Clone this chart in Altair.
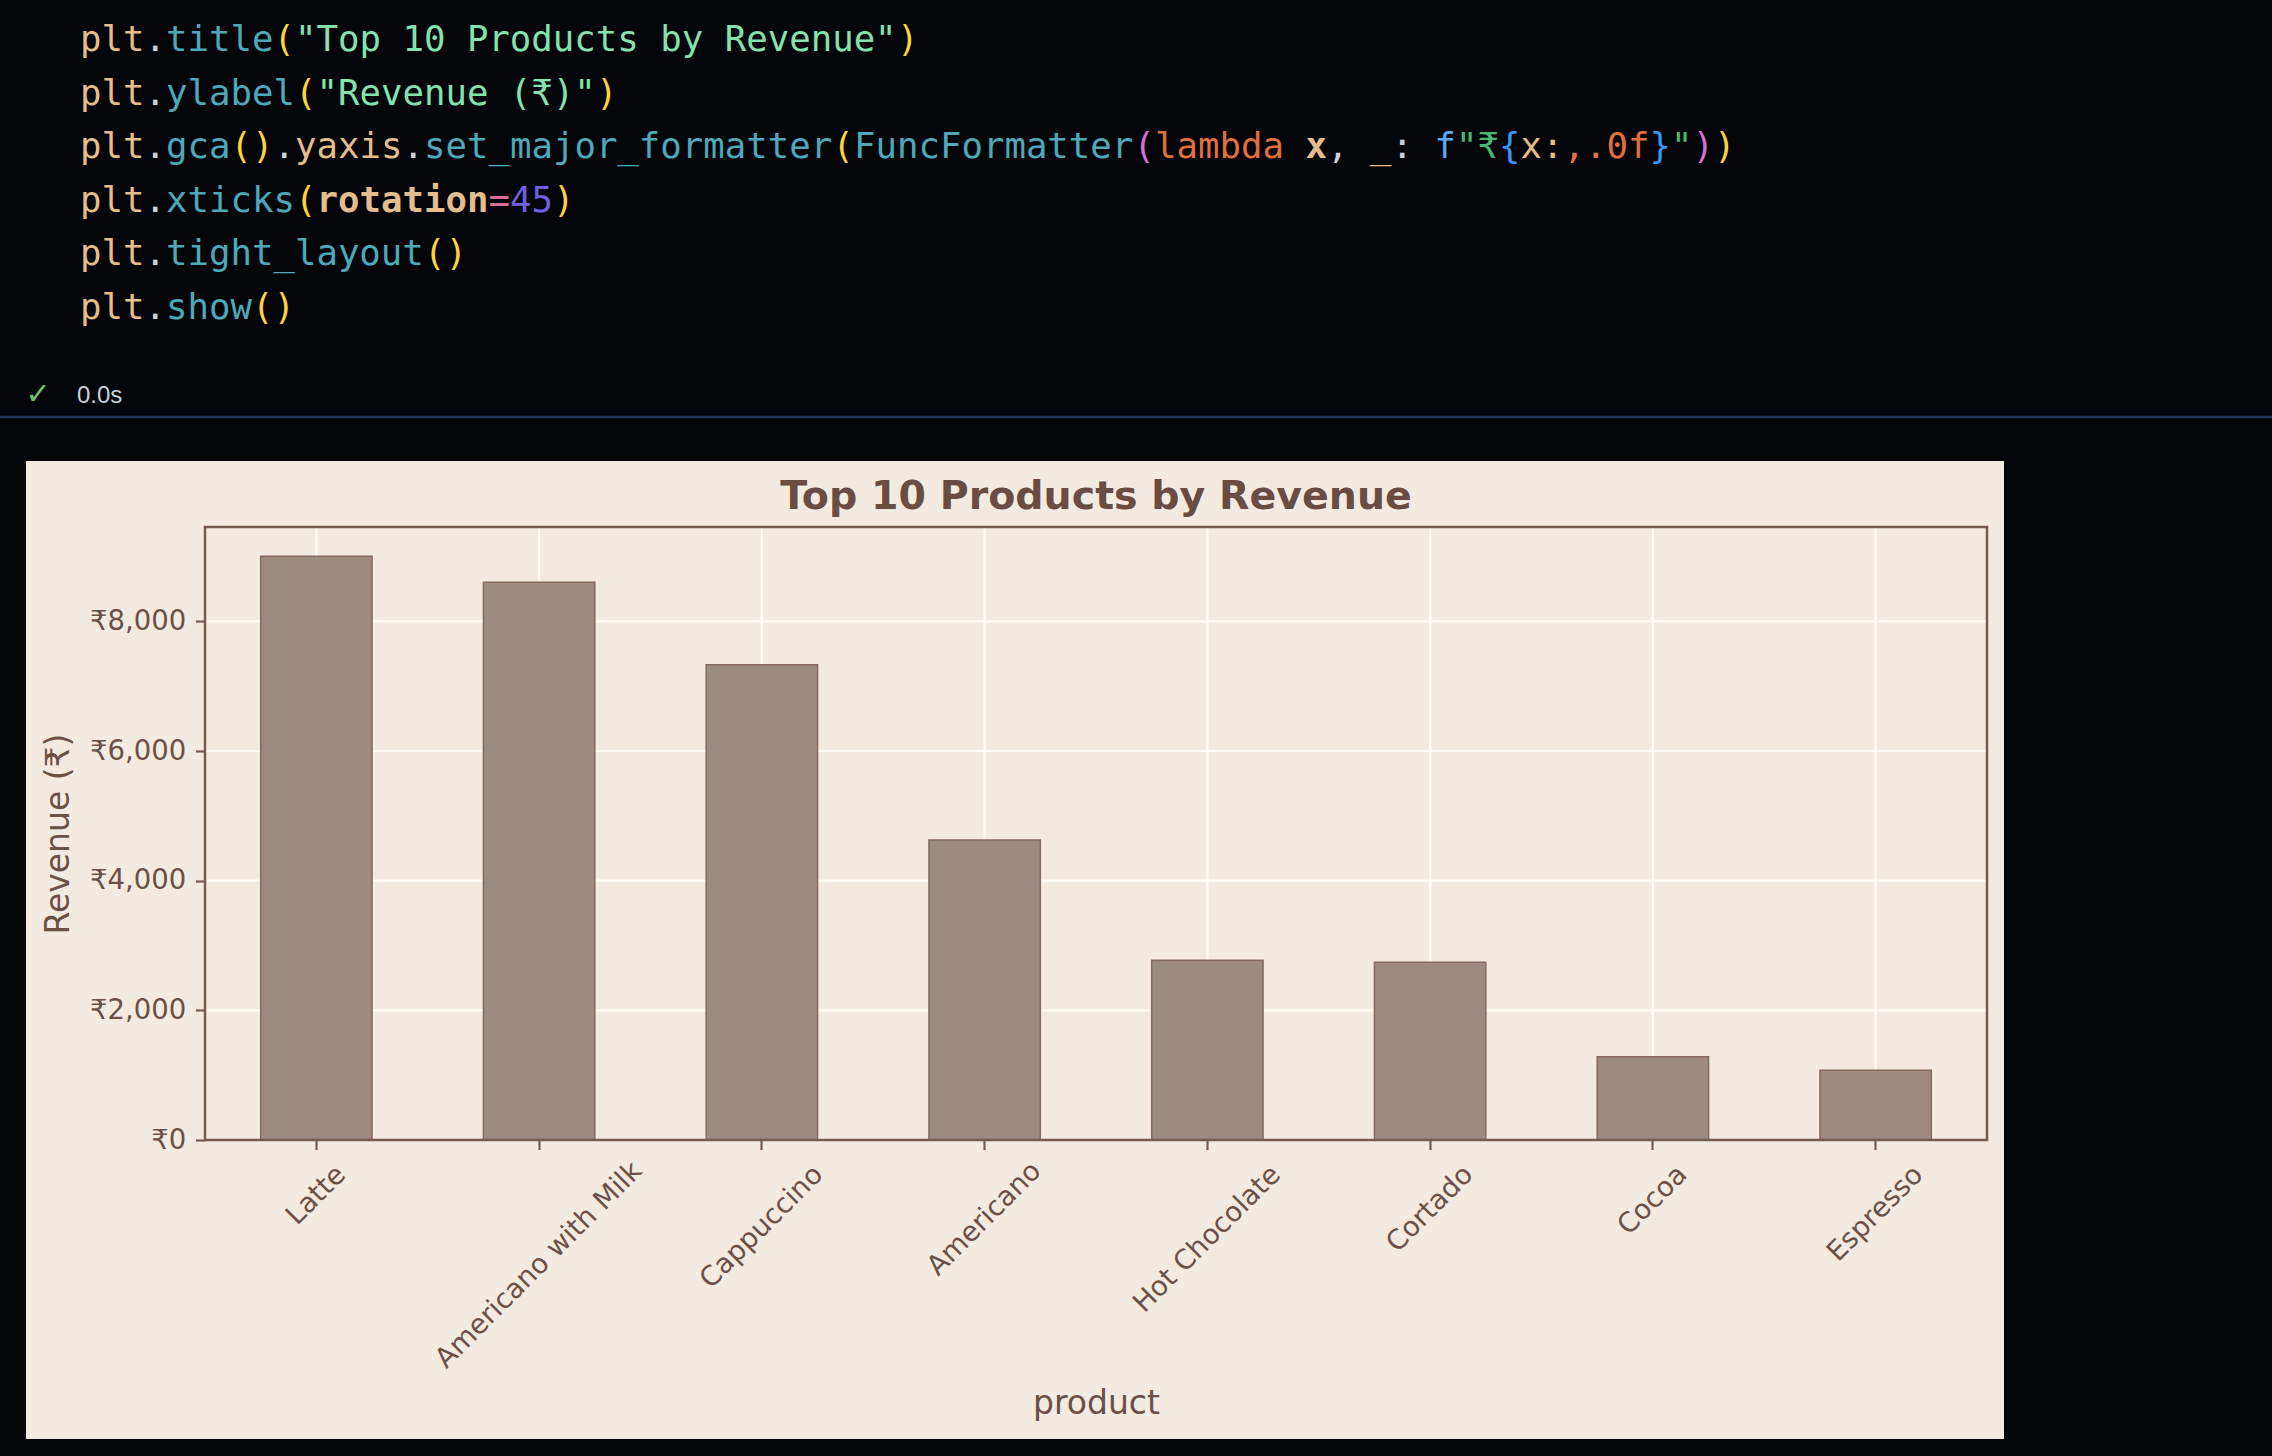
import altair as alt
import pandas as pd

# ---------------- data ----------------
products = ["Latte", "Americano with Milk", "Cappuccino", "Americano",
            "Hot Chocolate", "Cortado", "Cocoa", "Espresso"]
revenue = [9005, 8603, 7330, 4628, 2772, 2740, 1285, 1075]
y_ticks = [0, 2000, 4000, 6000, 8000]
grid_ticks = [2000, 4000, 6000, 8000]

chart_title = "Top 10 Products by Revenue"
y_title = "Revenue (₹)"
x_title = "product"

# code cell text, as (token, style) pairs
code_lines = [
    [("plt", "var"), (".", "punc"), ("title", "fn"), ("(", "p1"),
     ('"Top 10 Products by Revenue"', "str"), (")", "p1")],
    [("plt", "var"), (".", "punc"), ("ylabel", "fn"), ("(", "p1"),
     ('"Revenue (₹)"', "str"), (")", "p1")],
    [("plt", "var"), (".", "punc"), ("gca", "fn"), ("(", "p1"), (")", "p1"),
     (".", "punc"), ("yaxis", "var"), (".", "punc"), ("set_major_formatter", "fn"),
     ("(", "p1"), ("FuncFormatter", "fn"), ("(", "p2"), ("lambda", "kw"), (" ", "sp"),
     ("x", "varb"), (",", "punc"), (" ", "sp"), ("_", "var"), (":", "punc"), (" ", "sp"),
     ("f", "fpre"), ('"₹', "fstr"), ("{", "p3"), ("x:", "var"), (",.0f", "spec"),
     ("}", "p3"), ('"', "fstr"), (")", "p2"), (")", "p1")],
    [("plt", "var"), (".", "punc"), ("xticks", "fn"), ("(", "p1"),
     ("rotation", "varb"), ("=", "eq"), ("45", "int"), (")", "p1")],
    [("plt", "var"), (".", "punc"), ("tight_layout", "fn"), ("(", "p1"), (")", "p1")],
    [("plt", "var"), (".", "punc"), ("show", "fn"), ("(", "p1"), (")", "p1")],
]
status_check = "✓"
status_time = "0.0s"

# ---------------- styles ----------------
BG = "#040509"
PANEL = "#f3ebe1"
BAR_FILL = "#9d8a80"
BAR_EDGE = "#86695f"
SPINE = "#765b51"
TXT = "#6b5048"
TITLE_C = "#6a4c42"
GRID = "#fffcf7"
SEP = "#1e3853"

code_colors = {
    "var": "#e3bd8c", "varb": "#e3bd8c", "punc": "#c9d3dc", "fn": "#4ea8b9",
    "p1": "#fdd33f", "p2": "#d271d2", "p3": "#3a96f5", "str": "#86e1b1",
    "kw": "#e2703f", "fpre": "#5aa8ee", "fstr": "#46b874", "spec": "#e2703f",
    "eq": "#d66f95", "int": "#6f5fe3",
}

W, H = 1782, 613
PAD_L, PAD_T = 205, 527
TOTAL_W, TOTAL_H = 2272, 1456

TICK_FS = 27.5
LABEL_FS = 33
TICK_LEN = 9.6
TICK_PAD = 9.6

# ---------------- frames ----------------
df = pd.DataFrame({"product": products, "revenue": revenue})
ymax = max(revenue) * 1.05

xscale = alt.Scale(domain=products, paddingInner=0.5, paddingOuter=0.25)
yscale = alt.Scale(domain=[0, ymax], nice=False, zero=True)

# DejaVu Sans advance widths (em) to reproduce matplotlib's rotated-label layout
dv = {" ": .318, "A": .684, "C": .698, "E": .632, "H": .752, "L": .557, "M": .863,
      "a": .613, "c": .550, "d": .635, "e": .615, "h": .634, "i": .278, "k": .579,
      "l": .278, "n": .634, "o": .612, "p": .635, "r": .411, "s": .521, "t": .392,
      "u": .634, "w": .818}
text_h = 1.164 * TICK_FS
lab = pd.DataFrame({"product": products})
lab["depth"] = [TICK_LEN + TICK_PAD + 0.35355 * (sum(dv.get(c, .6) for c in p) * TICK_FS + text_h)
                for p in products]

rows = []
for li, toks in enumerate(code_lines):
    col = 0
    for t, s in toks:
        if s != "sp":
            rows.append({"text": t, "col": col, "line": li, "color": code_colors[s],
                         "bold": s in ("varb",)})
        col += len(t)
code_df = pd.DataFrame(rows)

one = pd.DataFrame({"k": [0]})

# ---------------- layers ----------------
panel = alt.Chart(one).mark_rect(fill=PANEL).encode(
    x=alt.value(26 - PAD_L), x2=alt.value(2004 - PAD_L),
    y=alt.value(461 - PAD_T), y2=alt.value(1439 - PAD_T))

sep = alt.Chart(one).mark_rule(color=SEP, strokeWidth=2.5).encode(
    x=alt.value(-PAD_L), x2=alt.value(TOTAL_W - PAD_L), y=alt.value(417 - PAD_T))

vgrid = alt.Chart(df).mark_rule(color=GRID, strokeWidth=2.2).encode(
    x=alt.X("product:N", scale=xscale, sort=products, axis=None),
    y=alt.value(0), y2=alt.value(H))

hgrid = alt.Chart(pd.DataFrame({"v": grid_ticks})).mark_rule(color=GRID, strokeWidth=2.2).encode(
    y=alt.Y("v:Q", scale=yscale, axis=None),
    x=alt.value(0), x2=alt.value(W))

bars = alt.Chart(df).mark_bar(fill=BAR_FILL, stroke=BAR_EDGE, strokeWidth=1.5).encode(
    x=alt.X("product:N", scale=xscale, sort=products,
            axis=alt.Axis(labels=False, grid=False, domain=False, ticks=True,
                          tickSize=TICK_LEN, tickWidth=2.2, tickColor=SPINE,
                          title=x_title, titleFont="DejaVu Sans", titleFontSize=LABEL_FS,
                          titleFontWeight="normal", titleColor=TXT, titleX=W / 2,
                          titleY=273, titleAlign="center", titleBaseline="alphabetic",
                          zindex=1)),
    y=alt.Y("revenue:Q", scale=yscale,
            axis=alt.Axis(values=y_ticks, labelExpr="'₹' + format(datum.value, ',.0f')",
                          grid=False, domain=False, ticks=True, tickSize=TICK_LEN,
                          tickWidth=2.2, tickColor=SPINE, labelColor=TXT,
                          labelFont="DejaVu Sans", labelFontSize=TICK_FS,
                          labelPadding=TICK_PAD, title=y_title, titleFont="DejaVu Sans",
                          titleFontSize=LABEL_FS, titleFontWeight="normal", titleColor=TXT,
                          titleX=-137, titleY=H / 2, titleAngle=270, titleAlign="center",
                          titleBaseline="alphabetic", zindex=1)),
)

frame = alt.Chart(one).mark_rect(fillOpacity=0, stroke=SPINE, strokeWidth=2.5).encode(
    x=alt.value(0), x2=alt.value(W), y=alt.value(0), y2=alt.value(H))

xlabels = alt.Chart(lab).mark_text(angle=315, align="center", baseline="middle",
                                   font="DejaVu Sans", fontSize=TICK_FS, color=TXT).encode(
    x=alt.X("product:N", scale=xscale, sort=products, axis=None),
    y=alt.Y("depth:Q", scale=alt.Scale(domain=[0, 100], range=[H, H + 100]), axis=None),
    text="product:N")

title = alt.Chart(one).mark_text(font="DejaVu Sans", fontSize=39.5, fontWeight="bold",
                                 color=TITLE_C, align="center", baseline="alphabetic").encode(
    x=alt.value(W / 2), y=alt.value(509 - PAD_T), text=alt.value(chart_title))

CHAR_W = 21.5
code_x = alt.X("col:Q", scale=alt.Scale(domain=[0, 1], range=[80 - PAD_L, 80 - PAD_L + CHAR_W]),
               axis=None)
code_y = alt.Y("line:Q", scale=alt.Scale(domain=[0, 1], range=[51 - PAD_T, 51 - PAD_T + 53.5]),
               axis=None)
code_norm = alt.Chart(code_df).transform_filter("!datum.bold").mark_text(
    font="DejaVu Sans Mono", fontSize=35.7, align="left", baseline="alphabetic").encode(
    x=code_x, y=code_y, text="text:N", color=alt.Color("color:N", scale=None))
code_bold = alt.Chart(code_df).transform_filter("datum.bold").mark_text(
    font="DejaVu Sans Mono", fontSize=35.7, fontWeight="bold", align="left",
    baseline="alphabetic").encode(
    x=code_x, y=code_y, text="text:N", color=alt.Color("color:N", scale=None))

check = alt.Chart(one).mark_text(font="DejaVu Sans", fontSize=30, color="#6fbf68",
                                 align="center", baseline="middle").encode(
    x=alt.value(38 - PAD_L), y=alt.value(395 - PAD_T), text=alt.value(status_check))
timing = alt.Chart(one).mark_text(font="Liberation Sans", fontSize=24, color="#c8d2dc",
                                  align="left", baseline="alphabetic").encode(
    x=alt.value(77 - PAD_L), y=alt.value(403 - PAD_T), text=alt.value(status_time))

chart = alt.layer(
    panel, sep, vgrid, hgrid, bars, frame, xlabels, title, code_norm, code_bold, check, timing
).resolve_scale(
    x="independent", y="independent", color="independent"
).properties(
    width=W, height=H,
    autosize=alt.AutoSizeParams(type="none"),
    padding={"left": PAD_L, "top": PAD_T, "right": TOTAL_W - PAD_L - W,
             "bottom": TOTAL_H - PAD_T - H},
).configure(background=BG).configure_view(stroke=None)

chart.save("out.html", embed_options={"renderer": "svg", "actions": False})
